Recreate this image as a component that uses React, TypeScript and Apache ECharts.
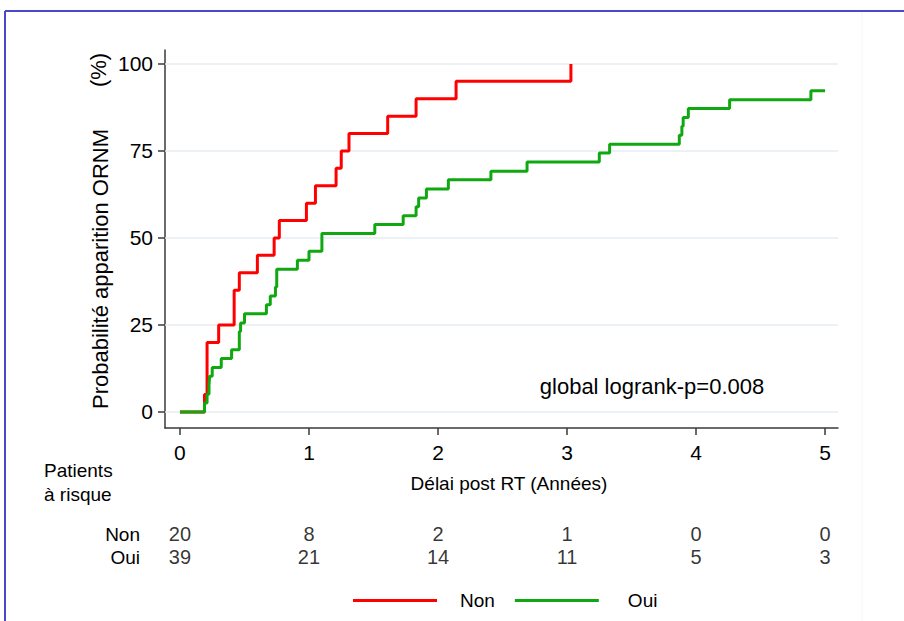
import React, { useEffect, useRef } from "react";
import * as echarts from "echarts";

// ---- Data ----
const timeTicks = [0, 1, 2, 3, 4, 5];
const probTicks = [0, 25, 50, 75, 100];
const groups = ["Non", "Oui"];

// Kaplan-Meier step curves: [time (years), cumulative probability (%)]
const nonCurve: [number, number][] = [
  [0, 0], [0.19, 5], [0.21, 20], [0.3, 25], [0.42, 35], [0.46, 40], [0.6, 45],
  [0.73, 50], [0.77, 55], [0.98, 60], [1.05, 65], [1.21, 70], [1.25, 75],
  [1.31, 80], [1.61, 85], [1.83, 90], [2.14, 95], [3.03, 100],
];
const ouiCurve: [number, number][] = [
  [0, 0], [0.19, 2.6], [0.21, 5.1], [0.225, 7.7], [0.23, 10.3], [0.25, 12.8],
  [0.32, 15.4], [0.4, 17.9], [0.46, 23.1], [0.47, 25.6], [0.5, 28.2],
  [0.67, 30.8], [0.7, 33.3], [0.74, 35.9], [0.75, 41.0], [0.91, 43.6],
  [1.0, 46.2], [1.1, 51.3], [1.51, 53.9], [1.73, 56.4], [1.83, 59.0],
  [1.85, 61.5], [1.91, 64.1], [2.08, 66.7], [2.41, 69.2], [2.69, 71.8],
  [3.25, 74.4], [3.33, 76.9], [3.87, 79.5], [3.89, 82.1], [3.9, 84.6],
  [3.94, 87.2], [4.26, 89.7], [4.89, 92.3], [5.0, 92.3],
];
const atRiskNon = [20, 8, 2, 1, 0, 0];
const atRiskOui = [39, 21, 14, 11, 5, 3];
const yTitle = "Probabilité apparition ORNM";
const yUnit = "(%)";
const xTitle = "Délai post RT (Années)";
const riskTitle = "Patients\nà risque";
const logrankText = "global logrank-p=0.008";

const FONT = "'Liberation Sans', Arial, Helvetica, sans-serif";
const RED = "#ff0000";
const GREEN = "#10a810";

export default function App() {
  const ref = useRef<HTMLDivElement>(null);

  useEffect(() => {
    const chart = echarts.init(ref.current!, null, { renderer: "svg" });
    const xMin = -0.116;
    const xMax = 5.1;
    const axisColor = "#3a3a3a";

    const option: any = {
      animation: false,
      backgroundColor: "#ffffff",
      textStyle: { fontFamily: FONT, color: "#000" },
      grid: [
        { left: 165, right: 66, top: 50, bottom: 193 },
        { left: 165, right: 66, top: 522.5, height: 46 },
      ],
      xAxis: [
        {
          gridIndex: 0,
          type: "value",
          min: xMin,
          max: xMax,
          axisLine: { show: true, onZero: false, lineStyle: { color: axisColor, width: 1.5 } },
          axisTick: { show: true, customValues: timeTicks, length: 7, lineStyle: { color: axisColor, width: 1.5 } },
          axisLabel: { customValues: timeTicks, fontSize: 21, color: "#000", margin: 14, fontFamily: FONT },
          splitLine: { show: false },
        },
        { gridIndex: 1, type: "value", min: xMin, max: xMax, show: false },
      ],
      yAxis: [
        {
          gridIndex: 0,
          type: "value",
          min: -4.6,
          max: 104,
          axisLine: { show: true, onZero: false, lineStyle: { color: axisColor, width: 1.5 } },
          axisTick: { show: true, customValues: probTicks, length: 7, lineStyle: { color: axisColor, width: 1.5 } },
          axisLabel: { customValues: probTicks, fontSize: 21, color: "#000", margin: 12, fontFamily: FONT },
          splitLine: { show: false },
        },
        {
          gridIndex: 1,
          type: "category",
          data: groups,
          inverse: true,
          axisLine: { show: false },
          axisTick: { show: false },
          axisLabel: { interval: 0, fontSize: 19, color: "#000", margin: 25, fontFamily: FONT },
        },
      ],
      legend: {
        data: [
          { name: "Non", textStyle: { padding: [0, 0, 0, 18] } },
          { name: "Oui", textStyle: { padding: [0, 0, 0, 24] } },
        ],
        left: 353,
        top: 591,
        padding: 0,
        icon: "rect",
        itemWidth: 84,
        itemHeight: 3,
        itemGap: 20,
        textStyle: { fontSize: 19, color: "#000", fontFamily: FONT },
      },
      series: [
        {
          name: "gridlines",
          type: "line",
          xAxisIndex: 0,
          yAxisIndex: 0,
          data: [],
          z: 1,
          silent: true,
          markLine: {
            silent: true,
            z: 1,
            symbol: "none",
            label: { show: false },
            lineStyle: { color: "#e4edf0", width: 1.5, type: "solid" },
            data: probTicks.map((v) => ({ yAxis: v })),
          },
        },
        {
          name: "Non",
          type: "line",
          xAxisIndex: 0,
          yAxisIndex: 0,
          step: "end",
          showSymbol: false,
          symbol: "none",
          color: RED,
          lineStyle: { color: RED, width: 3 },
          data: nonCurve,
          z: 3,
        },
        {
          name: "Oui",
          type: "line",
          xAxisIndex: 0,
          yAxisIndex: 0,
          step: "end",
          showSymbol: false,
          symbol: "none",
          color: GREEN,
          lineStyle: { color: GREEN, width: 3 },
          data: ouiCurve,
          z: 4,
        },
        {
          name: "riskNon",
          type: "scatter",
          xAxisIndex: 1,
          yAxisIndex: 1,
          symbolSize: 1,
          itemStyle: { color: "rgba(0,0,0,0)" },
          data: timeTicks.map((t, i) => [t, "Non", atRiskNon[i]]),
          label: {
            show: true,
            position: "inside",
            formatter: (p: any) => String(p.value[2]),
            fontSize: 20,
            color: "#000",
            fontFamily: FONT,
          },
        },
        {
          name: "riskOui",
          type: "scatter",
          xAxisIndex: 1,
          yAxisIndex: 1,
          symbolSize: 1,
          itemStyle: { color: "rgba(0,0,0,0)" },
          data: timeTicks.map((t, i) => [t, "Oui", atRiskOui[i]]),
          label: {
            show: true,
            position: "inside",
            formatter: (p: any) => String(p.value[2]),
            fontSize: 20,
            color: "#000",
            fontFamily: FONT,
          },
        },
      ],
      graphic: [
        { type: "line", z: 0, shape: { x1: 862, y1: 12, x2: 862, y2: 621 }, style: { stroke: "#f3f7f8", lineWidth: 1 } },
        { type: "line", shape: { x1: 5, y1: 11, x2: 904, y2: 11 }, style: { stroke: "#4a4ac8", lineWidth: 2 } },
        { type: "line", shape: { x1: 5, y1: 11, x2: 5, y2: 621 }, style: { stroke: "#4a4ac8", lineWidth: 2 } },
        {
          type: "text", x: 100, y: 269, rotation: Math.PI / 2,
          style: { text: yTitle, fontSize: 22, fontFamily: FONT, fill: "#000", align: "center", verticalAlign: "middle" },
        },
        {
          type: "text", x: 98, y: 70, rotation: Math.PI / 2,
          style: { text: yUnit, fontSize: 22, fontFamily: FONT, fill: "#000", align: "center", verticalAlign: "middle" },
        },
        {
          type: "text", x: 509, y: 483,
          style: { text: xTitle, fontSize: 19, fontFamily: FONT, fill: "#000", align: "center", verticalAlign: "middle" },
        },
        {
          type: "text", x: 44, y: 458,
          style: { text: riskTitle, fontSize: 19, lineHeight: 24, fontFamily: FONT, fill: "#000", align: "left", verticalAlign: "top" },
        },
        {
          type: "text", x: 652, y: 386,
          style: { text: logrankText, fontSize: 22, fontFamily: FONT, fill: "#000", align: "center", verticalAlign: "middle" },
        },
      ],
    };

    chart.setOption(option);
    return () => chart.dispose();
  }, []);

  return (
    <div
      ref={ref}
      style={{ position: "fixed", left: 0, top: 0, width: 904, height: 621 }}
    />
  );
}
